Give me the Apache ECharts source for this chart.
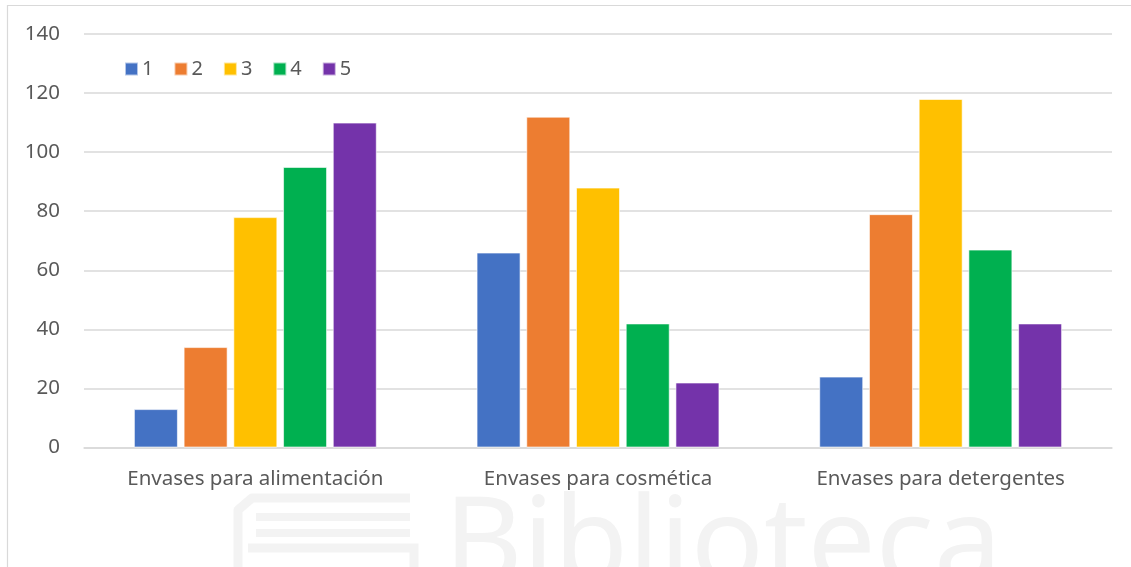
<!DOCTYPE html>
<html>
<head>
<meta charset="utf-8">
<script src="https://cdn.jsdelivr.net/npm/echarts@6/dist/echarts.min.js"></script>
<style>
  html, body { margin: 0; padding: 0; background: #ffffff; }
  #chart { width: 1131px; height: 567px; }
</style>
</head>
<body>
<div id="chart"></div>
<script>
// Package types on the category axis
const categories = ['Envases para alimentación', 'Envases para cosmética', 'Envases para detergentes'];

// Number of answers per rating (1–5) for each package type
const rating1 = [13, 66, 24];
const rating2 = [34, 112, 79];
const rating3 = [78, 88, 118];
const rating4 = [95, 42, 67];
const rating5 = [110, 22, 42];

const seriesNames = ['1', '2', '3', '4', '5'];
const seriesValues = [rating1, rating2, rating3, rating4, rating5];
const seriesColors = ['#4472C4', '#ED7D31', '#FFC000', '#00B050', '#7433AA'];

// Value axis range
const yMin = 0;
const yMax = 140;
const yStep = 20;

const FONT = '"Noto Sans"';
const TEXT_COLOR = '#595959';
const GRID_COLOR = '#d9d9d9';
const MARK_COLOR = '#f3f3f3';

const chart = echarts.init(document.getElementById('chart'), null, { renderer: 'canvas' });

const series = seriesNames.map((name, i) => ({
  name: name,
  type: 'bar',
  data: seriesValues[i],
  barWidth: 44,
  barGap: '13%',
  itemStyle: { color: seriesColors[i], borderColor: 'rgba(255,255,255,0.6)', borderWidth: 1 },
  emphasis: { disabled: true },
  z: 3
}));

chart.setOption({
  animation: false,
  backgroundColor: '#ffffff',
  textStyle: { fontFamily: FONT },
  grid: { left: 84, right: 19, top: 34, bottom: 119.5, containLabel: false },
  legend: {
    data: seriesNames,
    left: 119,
    top: 54,
    itemWidth: 13,
    itemHeight: 13,
    itemGap: 20,
    icon: 'rect',
    textStyle: { fontFamily: FONT, fontSize: 20, color: TEXT_COLOR, padding: [0, 0, 0, -1] }
  },
  xAxis: {
    type: 'category',
    data: categories,
    axisLine: { show: true, lineStyle: { color: GRID_COLOR, width: 1.5 } },
    axisTick: { show: false },
    axisLabel: { fontFamily: FONT, fontSize: 20.5, color: TEXT_COLOR, margin: 21 }
  },
  yAxis: {
    type: 'value',
    min: yMin,
    max: yMax,
    interval: yStep,
    axisLine: { show: false },
    axisTick: { show: false },
    axisLabel: { fontFamily: FONT, fontSize: 20.5, color: TEXT_COLOR, margin: 24 },
    splitLine: { lineStyle: { color: GRID_COLOR, width: 1.5 } }
  },
  graphic: [
    // chart frame (top and left edges)
    {
      type: 'polyline', z: -5, silent: true,
      shape: { points: [[7.5, 600], [7.5, 5.5], [1140, 5.5]] },
      style: { stroke: GRID_COLOR, lineWidth: 1.2, fill: null }
    },
    // faint library mark in the lower area
    {
      type: 'group', z: -10, silent: true,
      children: [
        {
          type: 'polyline',
          shape: { points: [[410, 498], [252, 498], [238, 510], [238, 580]] },
          style: { stroke: MARK_COLOR, lineWidth: 9, fill: null, lineJoin: 'round' }
        },
        { type: 'rect', shape: { x: 256, y: 513, width: 154, height: 8 }, style: { fill: MARK_COLOR } },
        { type: 'rect', shape: { x: 256, y: 529, width: 154, height: 8 }, style: { fill: MARK_COLOR } },
        {
          type: 'polyline',
          shape: { points: [[248, 548], [414, 548], [414, 580]] },
          style: { stroke: MARK_COLOR, lineWidth: 9, fill: null }
        },
        {
          type: 'text',
          x: 444,
          y: 488,
          style: {
            text: 'Biblioteca',
            fontSize: 121,
            fontFamily: 'Noto Sans',
            fill: MARK_COLOR,
            align: 'left',
            verticalAlign: 'top'
          }
        }
      ]
    }
  ],
  series: series
});
</script>
</body>
</html>
